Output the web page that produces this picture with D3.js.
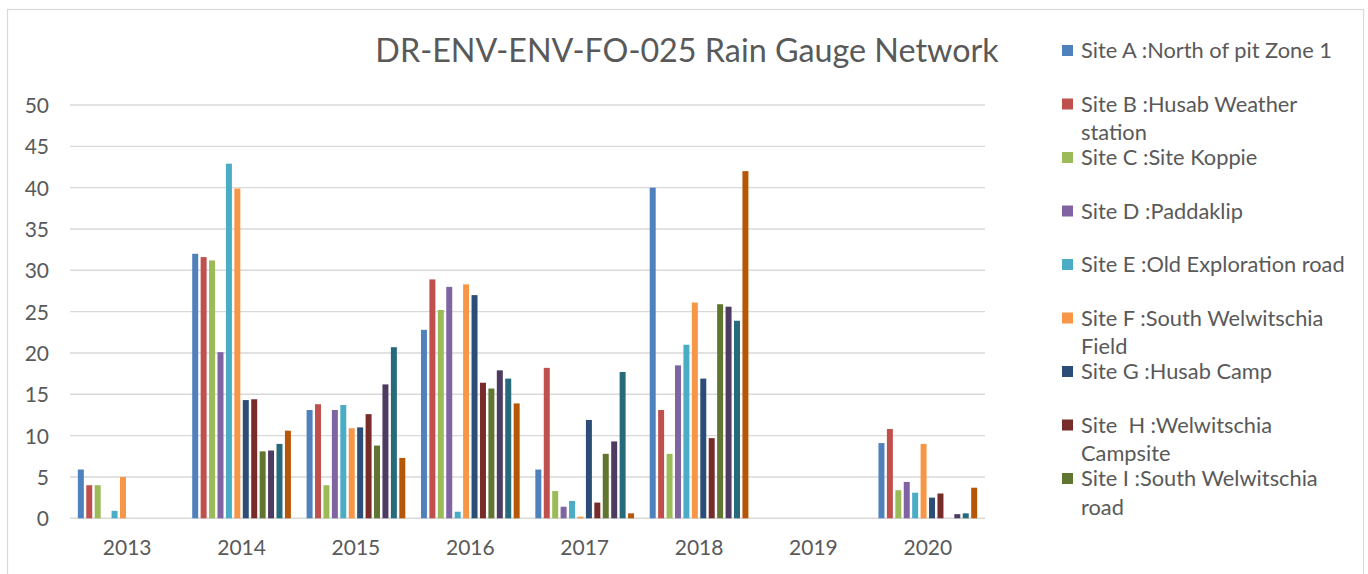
<!DOCTYPE html>
<html>
<head>
<meta charset="utf-8">
<script src="https://cdn.jsdelivr.net/npm/d3@7"></script>
<style>
	body { margin: 0; background: #fff; }
	text { font-family: Lato, "Open Sans", sans-serif; fill: #595959; }
</style>
</head>
<body>
<div id="chart-area"></div>
<script>

// chart data
let years = ["2013", "2014", "2015", "2016", "2017", "2018", "2019", "2020"];

let siteNames = [
	"Site A :North of pit Zone 1",
	"Site B :Husab Weather station",
	"Site C :Site Koppie",
	"Site D :Paddaklip",
	"Site E :Old Exploration road",
	"Site F :South Welwitschia Field",
	"Site G :Husab Camp",
	"Site  H :Welwitschia Campsite",
	"Site I :South Welwitschia road",
	"Site J",
	"Site K",
	"Site L"
];

let siteA = [5.9, 32.0, 13.1, 22.8, 5.9, 40.0, 0, 9.1];
let siteB = [4.0, 31.6, 13.8, 28.9, 18.2, 13.1, 0, 10.8];
let siteC = [4.0, 31.2, 4.0, 25.2, 3.3, 7.8, 0, 3.4];
let siteD = [0, 20.1, 13.1, 28.0, 1.4, 18.5, 0, 4.4];
let siteE = [0.9, 42.9, 13.7, 0.8, 2.1, 21.0, 0, 3.1];
let siteF = [5.0, 39.9, 10.9, 28.3, 0.2, 26.1, 0, 9.0];
let siteG = [0, 14.3, 11.0, 27.0, 11.9, 16.9, 0, 2.5];
let siteH = [0, 14.4, 12.6, 16.4, 1.9, 9.7, 0, 3.0];
let siteI = [0, 8.1, 8.8, 15.7, 7.8, 25.9, 0, 0];
let siteJ = [0, 8.2, 16.2, 17.9, 9.3, 25.6, 0, 0.5];
let siteK = [0, 9.0, 20.7, 16.9, 17.7, 23.9, 0, 0.6];
let siteL = [0, 10.6, 7.3, 13.9, 0.6, 42.0, 0, 3.7];

let yTicks = [0, 5, 10, 15, 20, 25, 30, 35, 40, 45, 50];

// only the first nine sites fit in the legend box
let legendCount = 9;

let seriesValues = [siteA, siteB, siteC, siteD, siteE, siteF, siteG, siteH, siteI, siteJ, siteK, siteL];

// office 2010 palette
let color = d3.scaleOrdinal()
	.domain(siteNames)
	.range(["#4F81BD", "#C0504D", "#9BBB59", "#8064A2", "#4BACC6", "#F79646",
		"#2C4D75", "#772C2A", "#5F7530", "#4D3B62", "#276A7C", "#B65708"]);

let W = 1368, H = 574;
let plot = {left: 70, right: 985, top: 105, bottom: 518.3};

let svg = d3.select("#chart-area").append("svg")
	.attr("width", W)
	.attr("height", H);

// outer chart border
svg.append("rect")
	.attr("x", 7.5)
	.attr("y", 9.5)
	.attr("width", 1356)
	.attr("height", 580)
	.attr("fill", "#fff")
	.attr("stroke", "#D9D9D9")
	.attr("stroke-width", 1.2);

// scales
let x0 = d3.scaleBand().domain(years).range([plot.left, plot.right]).padding(0);
let x1 = d3.scaleBand().domain(siteNames).range([0, x0.bandwidth()])
	.paddingInner(0.29)
	.paddingOuter(0.93);
let y = d3.scaleLinear().domain([0, 50]).range([plot.bottom, plot.top]);

// gridlines
svg.append("g")
	.attr("class", "grid")
	.selectAll("line")
	.data(yTicks)
	.enter().append("line")
	.attr("x1", plot.left)
	.attr("x2", plot.right)
	.attr("y1", d => y(d))
	.attr("y2", d => y(d))
	.attr("stroke", "#D9D9D9")
	.attr("stroke-width", 1.4);

// y axis labels
let yAxis = d3.axisLeft(y).tickValues(yTicks).tickSize(0).tickPadding(21);
let yAxisGroup = svg.append("g")
	.attr("transform", "translate(" + plot.left + ",0)")
	.call(yAxis);
yAxisGroup.select(".domain").remove();
yAxisGroup.selectAll("text")
	.attr("fill", "#595959")
	.style("font-size", "21px")
	.attr("dy", "0.36em");

// x axis labels
let xAxis = d3.axisBottom(x0).tickSize(0).tickPadding(22);
let xAxisGroup = svg.append("g")
	.attr("transform", "translate(0," + plot.bottom + ")")
	.call(xAxis);
xAxisGroup.select(".domain").remove();
xAxisGroup.selectAll("text")
	.attr("fill", "#595959")
	.style("font-size", "21px");

// bars
let rows = [];
siteNames.forEach((name, i) => {
	years.forEach((yr, j) => {
		rows.push({site: name, year: yr, value: seriesValues[i][j]});
	});
});

svg.append("g")
	.attr("class", "bars")
	.selectAll("rect")
	.data(rows.filter(d => d.value > 0))
	.enter().append("rect")
	.attr("x", d => x0(d.year) + x1(d.site))
	.attr("width", x1.bandwidth())
	.attr("y", d => y(d.value))
	.attr("height", d => y(0) - y(d.value))
	.attr("fill", d => color(d.site));

// title
svg.append("text")
	.attr("x", 687)
	.attr("y", 62)
	.attr("text-anchor", "middle")
	.style("font-size", "32.3px")
	.text("DR-ENV-ENV-FO-025 Rain Gauge Network");

// legend
let legend = svg.append("g").attr("class", "legend");
let legendX = 1062, legendStep = 53.5, lineH = 28.5, wrapWidth = 272;

siteNames.slice(0, legendCount).forEach((name, i) => {
	let cy = 50.5 + i * legendStep;
	legend.append("rect")
		.attr("x", legendX)
		.attr("y", cy - 5.5)
		.attr("width", 11)
		.attr("height", 11)
		.attr("fill", color(name));

	let label = legend.append("text")
		.attr("x", legendX + 19)
		.attr("y", cy + 7.5)
		.style("font-size", "21.8px")
		.style("white-space", "pre");

	// simple word wrap
	let words = name.split(" ");
	let line = "";
	let tspan = label.append("tspan").attr("x", legendX + 19);
	words.forEach(w => {
		let test = line === "" ? w : line + " " + w;
		tspan.text(test);
		if (tspan.node().getComputedTextLength() > wrapWidth && line !== "") {
			tspan.text(line);
			tspan = label.append("tspan")
				.attr("x", legendX + 19)
				.attr("dy", lineH)
				.text(w);
			line = w;
		} else {
			line = test;
		}
	});
});

</script>
</body>
</html>
